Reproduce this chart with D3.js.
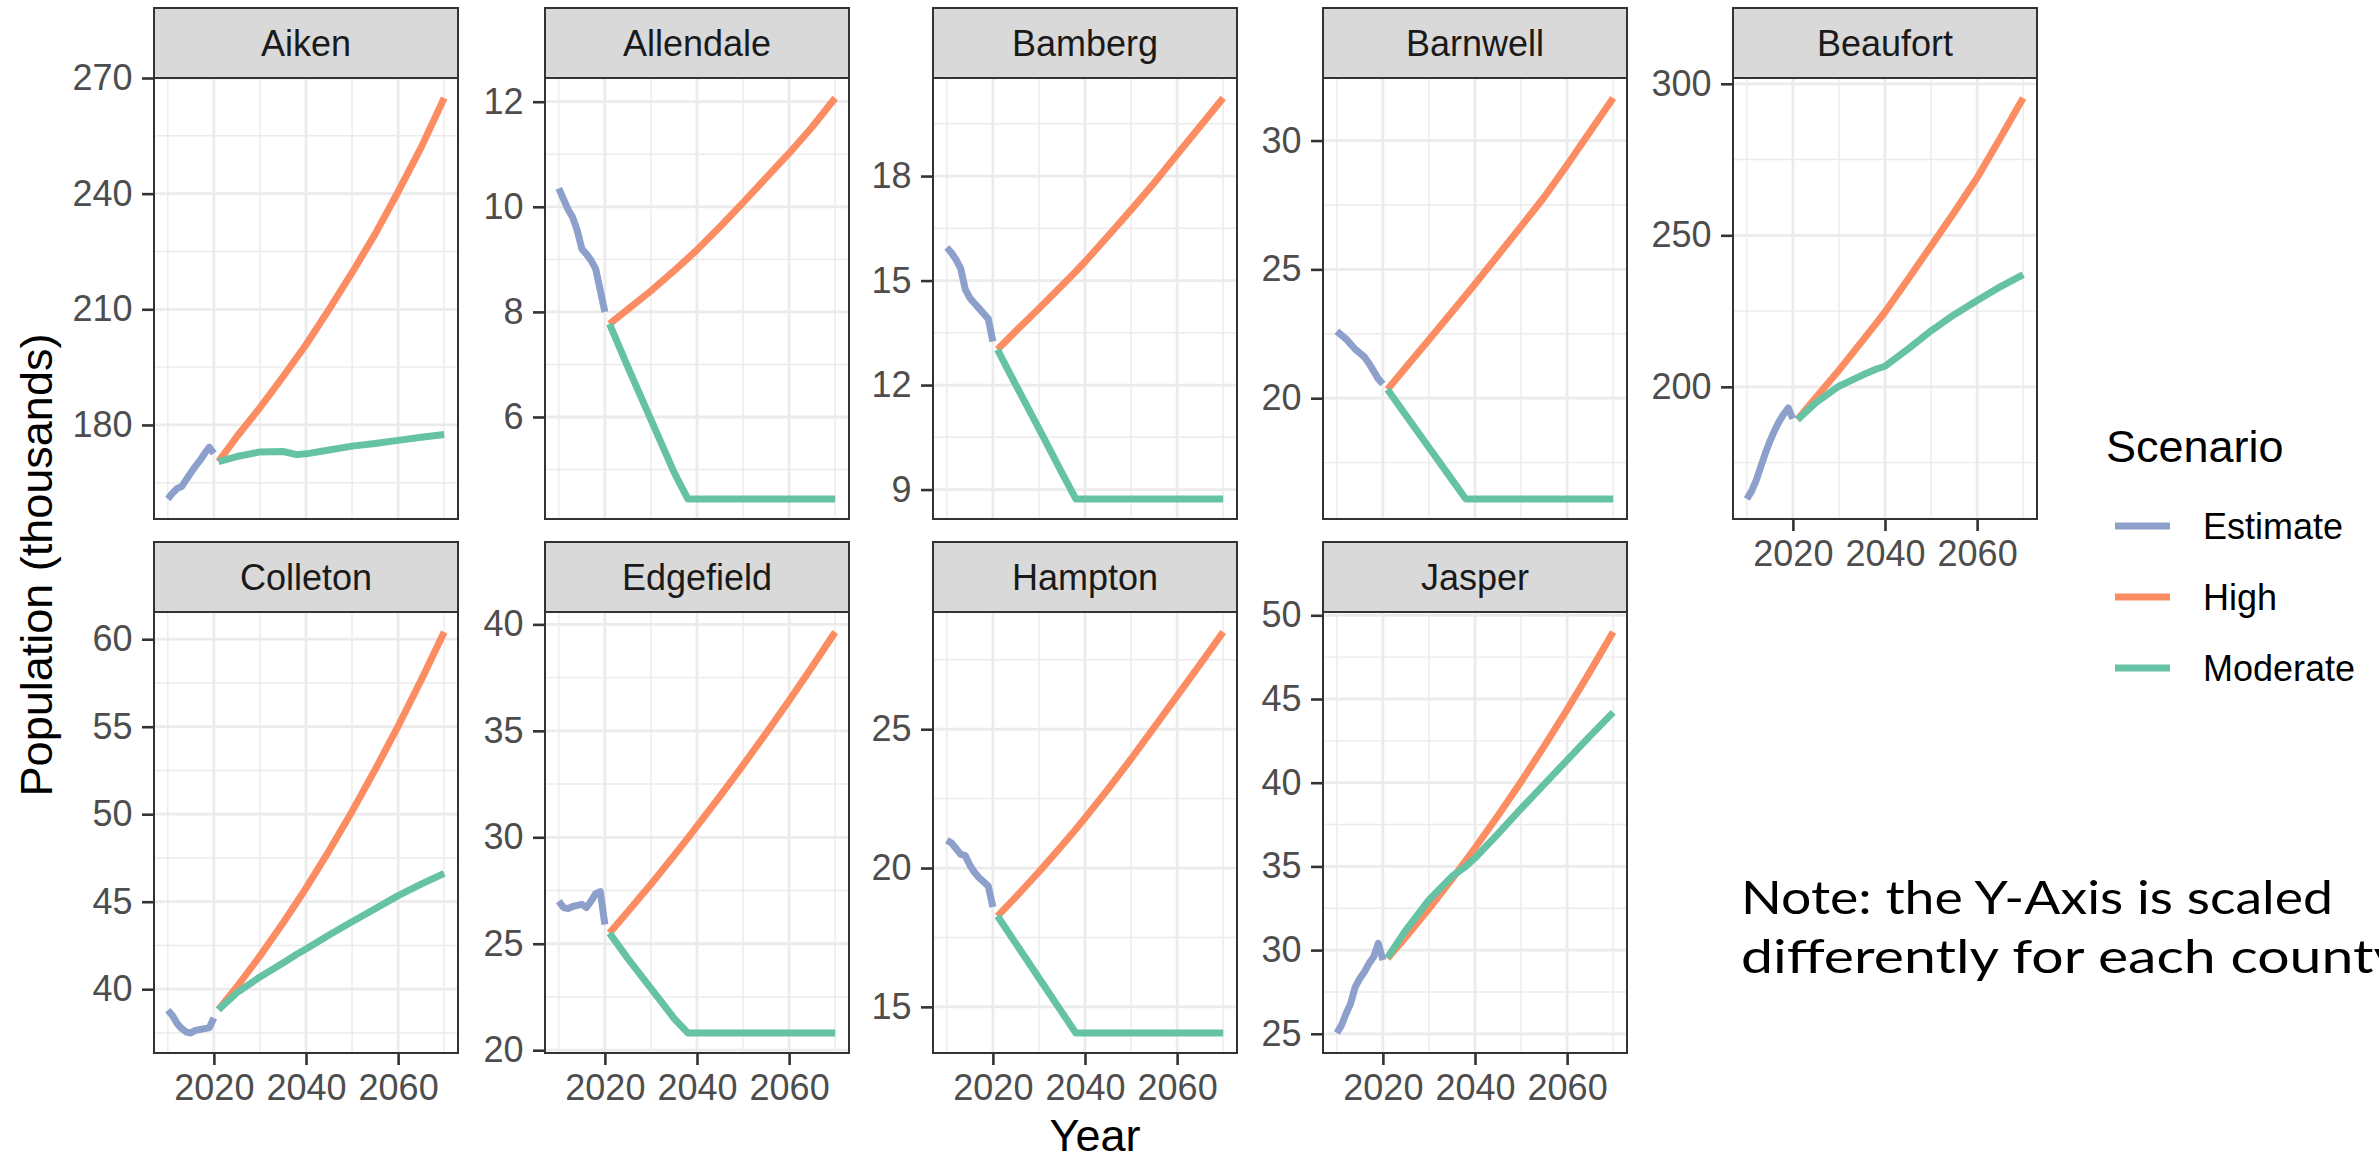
<!DOCTYPE html>
<html>
<head>
<meta charset="utf-8">
<script src="https://cdn.jsdelivr.net/npm/d3@7"></script>
<style>
  body { margin: 0; background: #fff; }
  text { font-family: "Liberation Sans", Arial, Helvetica, sans-serif; }
</style>
</head>
<body>
<svg id="chart"></svg>
<script>
// ---- data (population, thousands) ----
const counties = ['Aiken', 'Allendale', 'Bamberg', 'Barnwell', 'Beaufort',
  'Colleton', 'Edgefield', 'Hampton', 'Jasper'];

const scenarios = ['Estimate', 'High', 'Moderate'];
const scenarioColors = ['#8DA0CB', '#FC8D62', '#66C2A5'];

const estimateYears = [2010, 2011, 2012, 2013, 2014, 2015, 2016, 2017, 2018, 2019, 2020];
const projectionYears = [2021, 2025, 2030, 2035, 2038, 2040, 2045, 2050, 2055, 2060, 2065, 2070];

const estimateValues = [
  [160.8, 162.3, 163.5, 164.0, 165.8, 167.6, 169.3, 170.8, 172.6, 174.2, 172.6],
  [10.35, 10.15, 9.95, 9.8, 9.55, 9.2, 9.1, 8.98, 8.82, 8.41, 8.0],
  [15.95, 15.8, 15.6, 15.35, 14.75, 14.5, 14.35, 14.2, 14.05, 13.9, 13.25],
  [22.6, 22.45, 22.3, 22.1, 21.9, 21.75, 21.6, 21.35, 21.05, 20.75, 20.55],
  [163.0, 165.5, 169.0, 173.5, 178.0, 182.0, 185.5, 188.5, 191.0, 193.0, 189.5],
  [38.8, 38.5, 38.05, 37.75, 37.55, 37.5, 37.65, 37.7, 37.75, 37.8, 38.35],
  [27.0, 26.7, 26.65, 26.75, 26.8, 26.85, 26.7, 27.0, 27.35, 27.45, 25.9],
  [21.0, 20.9, 20.7, 20.5, 20.45, 20.1, 19.85, 19.65, 19.5, 19.35, 18.6],
  [25.05, 25.5, 26.2, 26.8, 27.8, 28.3, 28.7, 29.2, 29.6, 30.4, 29.4],
];

const highValues = [
  [170.5, 177.0, 184.5, 192.5, 197.5, 200.8, 210.0, 219.5, 229.5, 240.5, 252.0, 264.8],
  [7.77, 8.05, 8.4, 8.78, 9.02, 9.18, 9.62, 10.08, 10.55, 11.02, 11.52, 12.07],
  [13.02, 13.55, 14.2, 14.86, 15.26, 15.54, 16.28, 17.03, 17.8, 18.62, 19.43, 20.24],
  [20.34, 21.2, 22.27, 23.35, 24.0, 24.43, 25.55, 26.67, 27.8, 29.05, 30.35, 31.65],
  [189.2, 196.5, 205.5, 215.0, 220.8, 224.7, 235.5, 246.5, 257.5, 269.0, 282.0, 295.3],
  [38.83, 40.14, 41.9, 43.78, 44.97, 45.78, 47.91, 50.16, 52.54, 55.04, 57.66, 60.41],
  [25.5, 26.51, 27.8, 29.14, 29.96, 30.52, 31.93, 33.39, 34.89, 36.43, 38.01, 39.64],
  [18.27, 18.96, 19.86, 20.81, 21.4, 21.8, 22.84, 23.93, 25.06, 26.2, 27.34, 28.5],
  [29.5, 30.79, 32.47, 34.24, 35.34, 36.1, 38.04, 40.06, 42.17, 44.37, 46.65, 49.0],
];

const moderateValues = [
  [170.5, 171.8, 173.0, 173.1, 172.3, 172.5, 173.5, 174.5, 175.2, 176.0, 176.8, 177.5],
  [7.77, 6.95, 5.95, 4.95, 4.44, 4.44, 4.44, 4.44, 4.44, 4.44, 4.44, 4.44],
  [13.02, 12.0, 10.75, 9.48, 8.73, 8.73, 8.73, 8.73, 8.73, 8.73, 8.73, 8.73],
  [20.34, 19.34, 18.09, 16.84, 16.09, 16.09, 16.09, 16.09, 16.09, 16.09, 16.09, 16.09],
  [189.2, 194.8, 200.2, 203.8, 205.8, 206.8, 212.5, 218.5, 223.8, 228.5, 233.0, 237.0],
  [38.83, 39.8, 40.7, 41.5, 42.0, 42.3, 43.1, 43.85, 44.6, 45.35, 46.0, 46.62],
  [25.5, 24.3, 22.9, 21.5, 20.81, 20.81, 20.81, 20.81, 20.81, 20.81, 20.81, 20.81],
  [18.27, 17.28, 16.04, 14.8, 14.06, 14.06, 14.06, 14.06, 14.06, 14.06, 14.06, 14.06],
  [29.55, 31.2, 33.0, 34.4, 35.0, 35.5, 36.95, 38.45, 39.9, 41.35, 42.8, 44.2],
];

const yTicks = [
  [180, 210, 240, 270],
  [6, 8, 10, 12],
  [9, 12, 15, 18],
  [20, 25, 30],
  [200, 250, 300],
  [40, 45, 50, 55, 60],
  [20, 25, 30, 35, 40],
  [15, 20, 25],
  [25, 30, 35, 40, 45, 50],
];

const xTicks = [2020, 2040, 2060];
const xMinorTicks = [2010, 2030, 2050, 2070];

const noteLines = ['Note: the Y-Axis is scaled', 'differently for each county'];

// ---- layout ----
const config = {
  width: 2379,
  height: 1160,
  colLeft: [154, 545, 933, 1323, 1733],
  rowTop: [78, 612],
  panelWidth: 304,
  panelHeight: 441,
  stripHeight: 70,
  lineWidth: 7,
  tickSize: 12,
  tickPadding: 9.5,
};

const svg = d3.select('#chart')
  .attr('width', config.width)
  .attr('height', config.height);

svg.append('rect')
  .attr('width', config.width)
  .attr('height', config.height)
  .attr('fill', '#fff');

const xScale = d3.scaleLinear()
  .domain([2007, 2073])
  .range([0, config.panelWidth]);

const line = (yScale) => d3.line()
  .x((d) => xScale(d.year))
  .y((d) => yScale(d.value));

counties.forEach((county, i) => {
  const row = i < 5 ? 0 : 1;
  const col = i < 5 ? i : i - 5;
  const showX = i >= 4;

  const series = [
    estimateYears.map((year, j) => ({ year, value: estimateValues[i][j] })),
    projectionYears.map((year, j) => ({ year, value: highValues[i][j] })),
    projectionYears.map((year, j) => ({ year, value: moderateValues[i][j] })),
  ];

  // free y scale with ggplot's 5% expansion
  const [lo, hi] = d3.extent(series.flat(), (d) => d.value);
  const pad = (hi - lo) * 0.05;
  const yScale = d3.scaleLinear()
    .domain([lo - pad, hi + pad])
    .range([config.panelHeight, 0]);

  const ticks = yTicks[i];
  const step = ticks[1] - ticks[0];
  const yMinor = [];
  for (let v = ticks[0] - step / 2; v <= hi + pad; v += step) {
    if (v >= lo - pad) yMinor.push(v);
  }

  const g = svg.append('g')
    .attr('transform', `translate(${config.colLeft[col]},${config.rowTop[row]})`);

  g.append('rect')
    .attr('width', config.panelWidth)
    .attr('height', config.panelHeight)
    .attr('fill', '#fff');

  // grid: minor first, then major
  g.selectAll('.y-minor').data(yMinor).join('line')
    .attr('x1', 0).attr('x2', config.panelWidth)
    .attr('y1', (d) => yScale(d)).attr('y2', (d) => yScale(d))
    .attr('stroke', '#EBEBEB').attr('stroke-width', 1.4);
  g.selectAll('.x-minor').data(xMinorTicks).join('line')
    .attr('y1', 0).attr('y2', config.panelHeight)
    .attr('x1', (d) => xScale(d)).attr('x2', (d) => xScale(d))
    .attr('stroke', '#EBEBEB').attr('stroke-width', 1.4);
  g.selectAll('.y-major').data(ticks).join('line')
    .attr('x1', 0).attr('x2', config.panelWidth)
    .attr('y1', (d) => yScale(d)).attr('y2', (d) => yScale(d))
    .attr('stroke', '#EBEBEB').attr('stroke-width', 2.8);
  g.selectAll('.x-major').data(xTicks).join('line')
    .attr('y1', 0).attr('y2', config.panelHeight)
    .attr('x1', (d) => xScale(d)).attr('x2', (d) => xScale(d))
    .attr('stroke', '#EBEBEB').attr('stroke-width', 2.8);

  // scenario lines
  series.forEach((s, k) => {
    g.append('path')
      .datum(s)
      .attr('d', line(yScale))
      .attr('fill', 'none')
      .attr('stroke', scenarioColors[k])
      .attr('stroke-width', config.lineWidth)
      .attr('stroke-linejoin', 'round')
      .attr('stroke-linecap', 'butt');
  });

  g.append('rect')
    .attr('width', config.panelWidth)
    .attr('height', config.panelHeight)
    .attr('fill', 'none')
    .attr('stroke', '#333333')
    .attr('stroke-width', 2);

  // y axis
  const yAxisG = g.append('g')
    .call(d3.axisLeft(yScale)
      .tickValues(ticks)
      .tickSize(config.tickSize)
      .tickPadding(config.tickPadding))
    .call((a) => a.select('.domain').remove());
  yAxisG.selectAll('line').attr('stroke', '#333333').attr('stroke-width', 2.6);
  yAxisG.selectAll('text')
    .attr('fill', '#4D4D4D')
    .style('font-size', '36px')
    .style('font-family', '"Liberation Sans", Arial, sans-serif');

  if (showX) {
    const xAxisG = g.append('g')
      .attr('transform', `translate(0,${config.panelHeight})`)
      .call(d3.axisBottom(xScale)
        .tickValues(xTicks)
        .tickFormat(d3.format('d'))
        .tickSize(config.tickSize)
        .tickPadding(config.tickPadding))
      .call((a) => a.select('.domain').remove());
    xAxisG.selectAll('line').attr('stroke', '#333333').attr('stroke-width', 2.6);
    xAxisG.selectAll('text')
      .attr('fill', '#4D4D4D')
      .style('font-size', '36px')
      .style('font-family', '"Liberation Sans", Arial, sans-serif');
  }

  // facet strip
  g.append('rect')
    .attr('x', 0)
    .attr('y', -config.stripHeight)
    .attr('width', config.panelWidth)
    .attr('height', config.stripHeight)
    .attr('fill', '#D9D9D9')
    .attr('stroke', '#333333')
    .attr('stroke-width', 2);
  g.append('text')
    .attr('x', config.panelWidth / 2)
    .attr('y', -config.stripHeight / 2)
    .attr('dy', '0.36em')
    .attr('text-anchor', 'middle')
    .attr('fill', '#1A1A1A')
    .style('font-size', '36px')
    .text(county);
});

// axis titles
svg.append('text')
  .attr('transform', 'translate(52,565) rotate(-90)')
  .attr('text-anchor', 'middle')
  .style('font-size', '45px')
  .attr('fill', '#000')
  .text('Population (thousands)');

svg.append('text')
  .attr('x', 1095)
  .attr('y', 1151)
  .attr('text-anchor', 'middle')
  .style('font-size', '45px')
  .attr('fill', '#000')
  .text('Year');

// legend
const legend = svg.append('g').attr('transform', 'translate(2106,0)');
legend.append('text')
  .attr('x', 0)
  .attr('y', 462)
  .style('font-size', '45px')
  .attr('fill', '#000')
  .text('Scenario');

const legendY = d3.scalePoint().domain(scenarios).range([526, 668]);
const legendItems = legend.selectAll('.legend-item')
  .data(scenarios)
  .join('g')
  .attr('class', 'legend-item')
  .attr('transform', (d) => `translate(0,${legendY(d)})`);
legendItems.append('line')
  .attr('x1', 9).attr('x2', 64)
  .attr('stroke', (d, k) => scenarioColors[k])
  .attr('stroke-width', config.lineWidth);
legendItems.append('text')
  .attr('x', 97)
  .attr('dy', '0.36em')
  .style('font-size', '36px')
  .attr('fill', '#000')
  .text((d) => d);

// note
svg.selectAll('.note')
  .data(noteLines)
  .join('text')
  .attr('class', 'note')
  .attr('x', 1741)
  .attr('y', (d, k) => 914 + k * 59)
  .attr('textLength', (d, k) => (k === 0 ? 592 : 662))
  .attr('lengthAdjust', 'spacingAndGlyphs')
  .style('font-family', '"Century Gothic", "URW Gothic", Lato, "Open Sans", sans-serif')
  .style('font-size', '47px')
  .attr('fill', '#000')
  .text((d) => d);
</script>
</body>
</html>
